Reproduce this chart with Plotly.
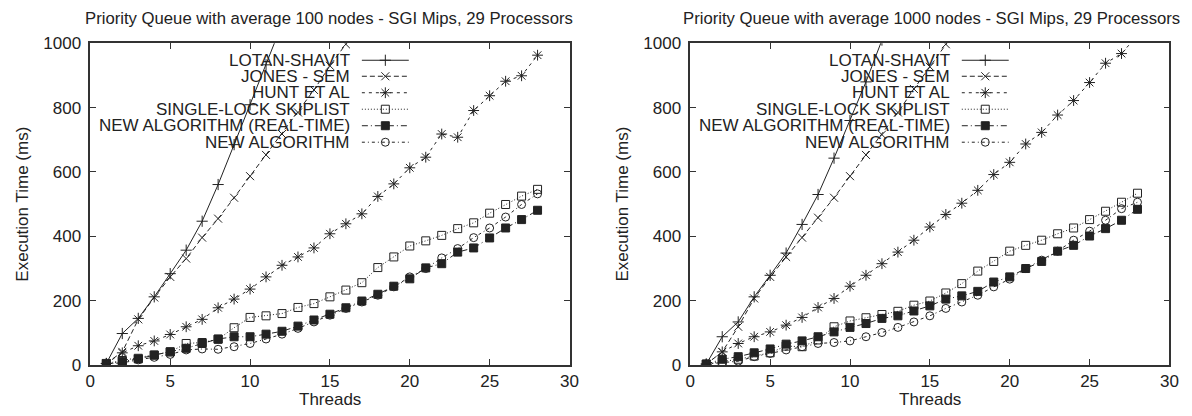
import plotly.graph_objects as go

# ---------------- data ----------------
threads = list(range(1, 29))

series_names = ["LOTAN-SHAVIT", "JONES - SEM", "HUNT ET AL", "SINGLE-LOCK SKIPLIST",
                "NEW ALGORITHM (REAL-TIME)", "NEW ALGORITHM"]

# 100 nodes
lotan_100 = [5, 98, 145, 212, 284, 357, 447, 561, 685, 809, 933, 1060]
jones_100 = [5, 41, 142, 210, 274, 331, 396, 455, 520, 587, 653, 718, 785, 855, 930, 997, 1065]
hunt_100 = [5, 38, 60, 75, 95, 119, 142, 178, 205, 236, 274, 310, 336, 364, 408, 439, 470, 524,
            563, 613, 646, 718, 708, 791, 837, 882, 899, 963]
skip_100 = [5, 14, 21, 31, 41, 67, 70, 80, 116, 148, 153, 160, 179, 191, 212, 233, 256, 303,
            336, 370, 386, 403, 424, 442, 472, 499, 525, 546]
rt_100 = [3, 12, 19, 31, 41, 52, 67, 81, 88, 88, 96, 105, 121, 140, 158, 178, 199, 220, 245,
          268, 302, 315, 351, 364, 395, 426, 452, 481]
new_100 = [3, 7, 16, 24, 33, 47, 50, 49, 57, 67, 81, 96, 114, 134, 155, 176, 196, 217, 243,
           274, 300, 333, 362, 396, 426, 460, 499, 532]

# 1000 nodes
lotan_1000 = [3, 88, 134, 212, 279, 348, 437, 530, 643, 760, 880, 1010]
jones_1000 = [3, 41, 119, 207, 274, 336, 396, 458, 520, 587, 653, 716, 785, 858, 927, 997, 1065]
hunt_1000 = [3, 41, 67, 88, 103, 124, 148, 179, 207, 245, 279, 315, 351, 388, 429, 468, 503, 543,
             592, 630, 687, 723, 777, 822, 878, 938, 968, 1025]
skip_1000 = [3, 10, 18, 28, 38, 59, 57, 78, 119, 137, 147, 157, 167, 186, 199, 224, 253, 292,
             322, 354, 372, 388, 408, 426, 452, 478, 506, 534]
rt_1000 = [3, 18, 26, 38, 50, 65, 75, 88, 103, 117, 129, 145, 153, 168, 184, 205, 215, 229, 258,
           274, 300, 322, 354, 372, 401, 424, 450, 484]
new_1000 = [3, 7, 12, 26, 36, 47, 57, 67, 70, 75, 88, 101, 117, 134, 153, 176, 196, 217, 243,
            267, 300, 326, 354, 388, 416, 450, 486, 506]

titles = ["Priority Queue with average 100 nodes - SGI Mips, 29 Processors",
          "Priority Queue with average 1000 nodes - SGI Mips, 29 Processors"]
x_title = "Threads"
y_title = "Execution Time (ms)"
x_ticks = [0, 5, 10, 15, 20, 25, 30]
y_ticks = [0, 200, 400, 600, 800, 1000]

# ---------------- geometry helpers ----------------
W, H = 1192, 416
# the photographed page is slightly shrunk/offset; map target picture pixels to page pixels
SX, OX, SY, OY = 0.99, 3.5, 0.955, 8.7


def px(x):
    return (x - OX) / SX


def py(y):
    return (y - OY) / SY


# ---------------- styles ----------------
INK = "#222222"
FONT = "Liberation Sans, Arial, Helvetica, sans-serif"
FS = 17
FS_TITLE = 16.7
styles = [
    dict(dash="solid", symbol="cross-thin", size=8),
    dict(dash="5px,3px", symbol="x-thin", size=8),
    dict(dash="3px,4px", symbol="asterisk", size=9),
    dict(dash="1px,2px", symbol="square-open", size=8),
    dict(dash="6px,3px,1px,3px", symbol="square", size=8),
    dict(dash="3px,3px,1px,3px", symbol="circle-open", size=8),
]

fig = go.Figure()

panels = [
    ("x", "y", [lotan_100, jones_100, hunt_100, skip_100, rt_100, new_100]),
    ("x2", "y2", [lotan_1000, jones_1000, hunt_1000, skip_1000, rt_1000, new_1000]),
]

for xa, ya, data in panels:
    for name, vals, st in zip(series_names, data, styles):
        fig.add_trace(go.Scatter(
            x=threads[:len(vals)], y=vals, xaxis=xa, yaxis=ya, name=name,
            mode="lines+markers", showlegend=False,
            line=dict(color=INK, width=1, dash=st["dash"]),
            marker=dict(symbol=st["symbol"], size=st["size"], color=INK,
                        line=dict(color=INK, width=1)),
        ))

# ---------------- gnuplot-style key (text left, sample right) ----------------
key_text_right = [350, 951]
key_row_y = [60, 76, 92.5, 109, 125.5, 142]
key_x0, key_x1 = 11, 58

for tx in key_text_right:
    for name, ky, st in zip(series_names, key_row_y, styles):
        fig.add_trace(go.Scatter(
            x=[px(tx + key_x0), px(tx + key_x1)], y=[py(ky), py(ky)], xaxis="x3", yaxis="y3",
            mode="lines", showlegend=False, hoverinfo="skip",
            line=dict(color=INK, width=1, dash=st["dash"]),
        ))
        fig.add_trace(go.Scatter(
            x=[px(tx + (key_x0 + key_x1) / 2)], y=[py(ky)], xaxis="x3", yaxis="y3",
            mode="markers", showlegend=False, hoverinfo="skip",
            marker=dict(symbol=st["symbol"], size=st["size"], color=INK,
                        line=dict(color=INK, width=1)),
        ))
        fig.add_annotation(
            x=px(tx), y=py(ky), xref="x3", yref="y3", text=name, showarrow=False,
            xanchor="right", yanchor="middle", borderpad=0,
            font=dict(family=FONT, size=FS, color=INK),
        )

# ---------------- axes ----------------
ydom = [(H - py(365)) / H, (H - py(43)) / H]
xdoms = [[px(89) / W, px(569) / W], [px(690) / W, px(1170) / W]]

common_axis = dict(
    showline=True, linecolor="#333333", linewidth=1.5, mirror="ticks",
    ticks="inside", ticklen=6, tickwidth=1.2, tickcolor="#333333",
    showgrid=False, zeroline=False,
    tickfont=dict(family=FONT, size=FS, color=INK),
)
yaxis_extra = dict(ticklabelstandoff=4)

fig.update_layout(
    width=W, height=H, autosize=False,
    margin=dict(l=0, r=0, t=0, b=0),
    paper_bgcolor="white", plot_bgcolor="rgba(0,0,0,0)",
    showlegend=False,
    xaxis=dict(domain=xdoms[0], range=[0, 30], tickvals=x_ticks, anchor="y", **common_axis),
    yaxis=dict(domain=ydom, range=[0, 1000], tickvals=y_ticks, anchor="x",
               **common_axis, **yaxis_extra),
    xaxis2=dict(domain=xdoms[1], range=[0, 30], tickvals=x_ticks, anchor="y2", **common_axis),
    yaxis2=dict(domain=ydom, range=[0, 1000], tickvals=y_ticks, anchor="x2",
                **common_axis, **yaxis_extra),
    xaxis3=dict(domain=[0, 1], range=[0, W], visible=False, anchor="y3", fixedrange=True),
    yaxis3=dict(domain=[0, 1], range=[H, 0], visible=False, anchor="x3", fixedrange=True),
)

# titles and axis labels
title_cx = [328, 932]
label_cx = [329, 930]
for cx, lcx, t in zip(title_cx, label_cx, titles):
    fig.add_annotation(x=px(cx) / W, y=1 - py(18) / H, xref="paper", yref="paper", text=t,
                       showarrow=False, xanchor="center", yanchor="middle",
                       font=dict(family=FONT, size=FS_TITLE, color=INK))
    fig.add_annotation(x=px(lcx) / W, y=0, xref="paper", yref="paper", yshift=-4,
                       borderpad=0, text=x_title, showarrow=False,
                       xanchor="center", yanchor="bottom",
                       font=dict(family=FONT, size=FS, color=INK))
for lx in [21, 622]:
    fig.add_annotation(x=px(lx) / W, y=1 - py(204) / H, xref="paper", yref="paper",
                       text=y_title, showarrow=False, textangle=-90,
                       xanchor="center", yanchor="middle",
                       font=dict(family=FONT, size=FS, color=INK))

fig.write_html("out.html", config={"displayModeBar": False},
               post_script="document.body.style.margin='0';")
